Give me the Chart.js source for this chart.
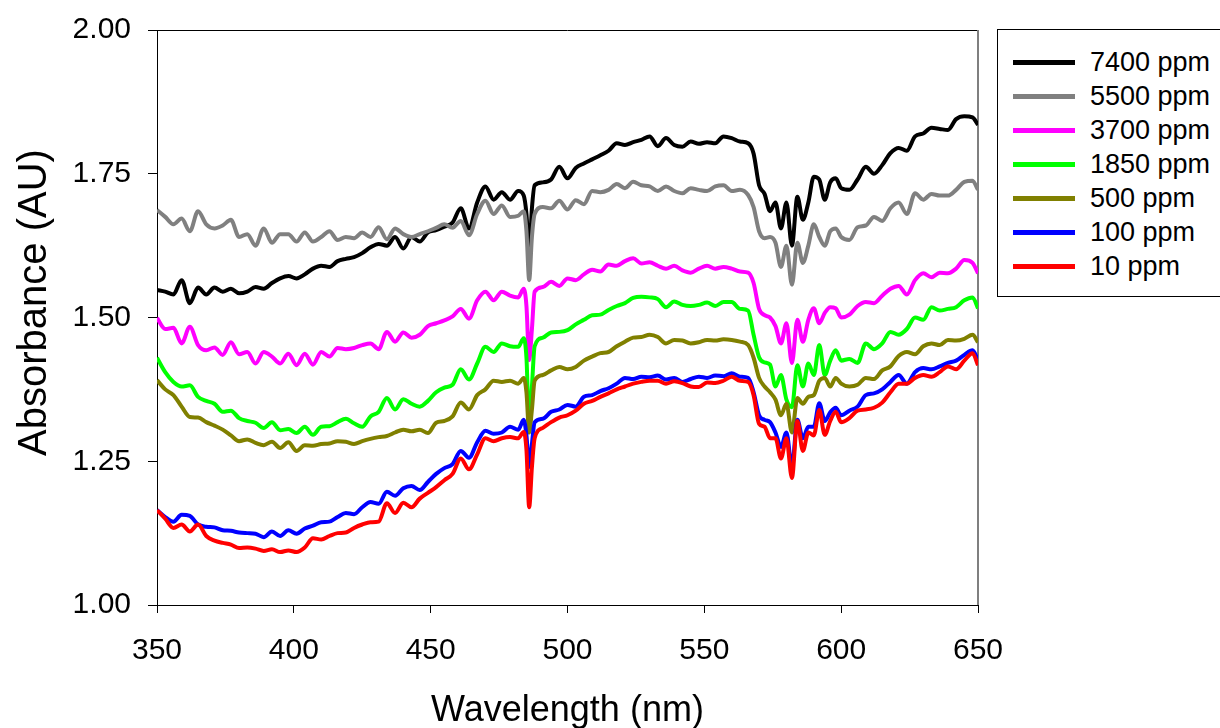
<!DOCTYPE html>
<html><head><meta charset="utf-8">
<script src="https://cdn.jsdelivr.net/npm/chart.js@4.4.1/dist/chart.umd.min.js"></script>
<style>
html,body{margin:0;padding:0;background:#fff;}
#wrap{position:relative;width:1220px;height:728px;overflow:hidden;}
#legend{position:absolute;left:997px;top:29px;width:240px;height:268px;border:1px solid #000;box-sizing:border-box;font-family:"Liberation Sans",Arial,sans-serif;font-size:27px;color:#000;background:#fff;}
.row{position:absolute;left:0;height:34px;width:220px;}
.sw{position:absolute;left:15px;top:15px;width:62px;height:5px;}
.lb{position:absolute;left:92px;top:0;white-space:nowrap;line-height:34px;}
</style></head>
<body><div id="wrap"><canvas id="c" width="1220" height="728"></canvas><div id="legend"></div></div>
<script>
const wavelength = [350,353,356,359,362,365,368,371,374,377,380,383,386,389,392,395,398,401,404,407,410,413,416,419,422,425,428,431,434,437,440,443,446,449,452,455,458,461,464,467,470,473,476,479,482,
484,485,486,487,488,
491,494,497,500,503,506,509,512,515,518,521,524,527,530,533,536,539,542,545,548,551,554,557,560,563,566,
568,570,572,574,576,578,580,582,584,586,588,590,592,594,596,598,600,
603,606,609,612,615,618,621,624,627,630,633,636,639,642,645,648,650];

const seriesNames = ['7400 ppm','5500 ppm','3700 ppm','1850 ppm','500 ppm','100 ppm','10 ppm'];
const seriesColors = ['#000000','#808080','#FF00FF','#00FF00','#808000','#0000FF','#FF0000'];

const abs7400 = [1.548,1.545,1.540,1.565,1.525,1.552,1.540,1.552,1.545,1.550,1.542,1.545,1.553,1.550,1.560,1.568,1.572,1.568,1.575,1.585,1.590,1.588,1.598,1.602,1.605,1.612,1.622,1.628,1.625,1.640,1.620,1.640,1.632,1.648,1.652,1.658,1.665,1.690,1.655,1.700,1.728,1.705,1.718,1.705,1.720,
1.712,1.680,1.612,1.690,1.730,
1.735,1.740,1.762,1.742,1.760,1.768,1.775,1.782,1.790,1.803,1.800,1.805,1.809,1.815,1.798,1.812,1.800,1.797,1.806,1.802,1.805,1.803,1.815,1.812,1.806,1.803,
1.785,1.730,1.715,1.685,1.700,1.655,1.700,1.625,1.710,1.670,1.700,1.745,1.740,1.705,1.735,1.742,1.725,
1.722,1.740,1.762,1.750,1.765,1.786,1.795,1.790,1.815,1.820,1.830,1.828,1.826,1.845,1.850,1.848,1.835];

const abs5500 = [1.687,1.675,1.662,1.672,1.650,1.685,1.662,1.655,1.660,1.670,1.640,1.645,1.625,1.655,1.630,1.645,1.645,1.632,1.648,1.632,1.640,1.650,1.635,1.640,1.638,1.648,1.640,1.657,1.636,1.655,1.645,1.640,1.645,1.650,1.656,1.662,1.656,1.668,1.643,1.680,1.703,1.680,1.695,1.675,1.677,
1.685,1.650,1.565,1.640,1.680,
1.692,1.690,1.703,1.688,1.704,1.697,1.720,1.718,1.722,1.732,1.725,1.736,1.730,1.728,1.720,1.728,1.720,1.716,1.725,1.722,1.720,1.728,1.730,1.720,1.722,1.713,
1.692,1.650,1.638,1.640,1.630,1.588,1.625,1.557,1.630,1.595,1.625,1.662,1.640,1.625,1.650,1.655,1.640,
1.635,1.657,1.660,1.675,1.668,1.690,1.700,1.680,1.716,1.705,1.715,1.712,1.712,1.722,1.736,1.738,1.722];

const abs3700 = [1.499,1.480,1.482,1.455,1.484,1.452,1.443,1.448,1.435,1.457,1.436,1.440,1.420,1.440,1.432,1.420,1.437,1.417,1.437,1.418,1.440,1.432,1.447,1.445,1.447,1.452,1.455,1.445,1.475,1.458,1.474,1.465,1.470,1.485,1.490,1.495,1.502,1.515,1.498,1.530,1.545,1.530,1.545,1.538,1.535,
1.550,1.520,1.426,1.480,1.545,
1.553,1.562,1.555,1.568,1.565,1.575,1.583,1.580,1.592,1.590,1.598,1.603,1.594,1.596,1.590,1.585,1.590,1.582,1.578,1.585,1.590,1.585,1.588,1.585,1.580,1.578,
1.560,1.515,1.504,1.500,1.485,1.455,1.490,1.421,1.496,1.458,1.496,1.516,1.490,1.508,1.518,1.516,1.500,
1.505,1.520,1.527,1.525,1.538,1.550,1.555,1.540,1.565,1.577,1.570,1.578,1.577,1.585,1.600,1.595,1.577];

const abs1850 = [1.430,1.405,1.388,1.380,1.382,1.362,1.355,1.350,1.336,1.338,1.325,1.320,1.317,1.308,1.318,1.304,1.306,1.299,1.310,1.296,1.310,1.311,1.318,1.324,1.316,1.310,1.328,1.336,1.360,1.340,1.358,1.350,1.345,1.355,1.370,1.378,1.383,1.410,1.392,1.420,1.449,1.440,1.455,1.450,1.449,
1.464,1.430,1.310,1.380,1.450,
1.465,1.474,1.475,1.478,1.488,1.496,1.504,1.505,1.513,1.520,1.525,1.534,1.536,1.535,1.532,1.518,1.528,1.522,1.520,1.522,1.526,1.520,1.527,1.527,1.515,1.512,
1.470,1.431,1.422,1.418,1.380,1.400,1.357,1.344,1.417,1.380,1.420,1.400,1.452,1.400,1.425,1.443,1.425,
1.428,1.421,1.455,1.445,1.455,1.475,1.470,1.480,1.500,1.496,1.518,1.512,1.515,1.518,1.530,1.535,1.516];

const abs500 = [1.391,1.375,1.365,1.345,1.327,1.326,1.318,1.312,1.305,1.295,1.285,1.288,1.282,1.278,1.284,1.273,1.283,1.268,1.278,1.277,1.280,1.281,1.285,1.284,1.280,1.285,1.289,1.292,1.294,1.300,1.305,1.302,1.305,1.299,1.317,1.320,1.328,1.352,1.340,1.365,1.375,1.390,1.388,1.390,1.385,
1.395,1.370,1.300,1.340,1.390,
1.400,1.408,1.414,1.410,1.414,1.425,1.432,1.438,1.440,1.450,1.458,1.465,1.466,1.470,1.466,1.455,1.461,1.460,1.455,1.457,1.461,1.460,1.462,1.461,1.458,1.452,
1.430,1.395,1.380,1.370,1.357,1.330,1.350,1.300,1.360,1.350,1.362,1.365,1.390,1.395,1.380,1.395,1.385,
1.380,1.383,1.395,1.393,1.408,1.415,1.433,1.440,1.436,1.450,1.455,1.452,1.461,1.460,1.463,1.470,1.457];

const abs100 = [1.165,1.153,1.145,1.157,1.155,1.140,1.136,1.135,1.130,1.129,1.126,1.125,1.124,1.118,1.128,1.120,1.130,1.124,1.133,1.138,1.144,1.145,1.153,1.160,1.158,1.170,1.179,1.176,1.197,1.190,1.203,1.207,1.200,1.214,1.228,1.238,1.245,1.268,1.256,1.283,1.303,1.298,1.300,1.310,1.305,
1.322,1.295,1.240,1.280,1.318,
1.324,1.336,1.340,1.348,1.345,1.362,1.365,1.372,1.377,1.385,1.395,1.393,1.397,1.396,1.399,1.392,1.395,1.388,1.393,1.397,1.395,1.399,1.398,1.403,1.397,1.395,
1.370,1.330,1.322,1.318,1.300,1.275,1.300,1.240,1.322,1.290,1.310,1.310,1.351,1.320,1.335,1.343,1.330,
1.338,1.345,1.365,1.368,1.375,1.388,1.400,1.385,1.405,1.412,1.410,1.415,1.421,1.425,1.435,1.443,1.426];

const abs10 = [1.165,1.150,1.134,1.140,1.128,1.140,1.120,1.112,1.108,1.105,1.099,1.100,1.098,1.094,1.097,1.092,1.095,1.092,1.100,1.116,1.114,1.120,1.125,1.126,1.134,1.140,1.144,1.145,1.177,1.160,1.178,1.170,1.185,1.195,1.205,1.217,1.228,1.255,1.236,1.262,1.290,1.285,1.290,1.292,1.290,
1.301,1.270,1.170,1.240,1.290,
1.308,1.318,1.326,1.330,1.338,1.350,1.355,1.362,1.368,1.375,1.380,1.385,1.388,1.390,1.390,1.385,1.389,1.386,1.380,1.379,1.387,1.386,1.390,1.397,1.390,1.388,
1.365,1.315,1.310,1.290,1.290,1.255,1.290,1.221,1.320,1.268,1.300,1.295,1.339,1.296,1.320,1.336,1.318,
1.325,1.338,1.340,1.343,1.352,1.370,1.385,1.385,1.395,1.400,1.397,1.405,1.415,1.410,1.425,1.438,1.417];

const seriesValues = [abs7400, abs5500, abs3700, abs1850, abs500, abs100, abs10];
const xTicks = [350,400,450,500,550,600,650];
const yTicks = [1.00,1.25,1.50,1.75,2.00];
const yTitle = 'Absorbance (AU)';

const FONT = '"Liberation Sans", Arial, Helvetica, sans-serif';

const framePlugin = {
  id: 'frame',
  beforeDatasetsDraw(chart) {
    const a = chart.chartArea, ctx = chart.ctx;
    ctx.save();
    ctx.strokeStyle = '#000'; ctx.lineWidth = 1;
    ctx.beginPath(); ctx.moveTo(a.left, a.top + 0.5); ctx.lineTo(a.right, a.top + 0.5); ctx.stroke();
    ctx.strokeStyle = '#7f7f7f'; ctx.lineWidth = 2;
    ctx.beginPath(); ctx.moveTo(a.right, a.top); ctx.lineTo(a.right, a.bottom); ctx.stroke();
    ctx.restore();
  },
  afterDraw(chart) {
    const a = chart.chartArea, ctx = chart.ctx;
    ctx.save();
    ctx.translate(35, (a.top + a.bottom) / 2 - 15);
    ctx.rotate(-Math.PI / 2);
    ctx.font = '40px ' + FONT;
    ctx.fillStyle = '#000';
    ctx.textAlign = 'center';
    ctx.textBaseline = 'middle';
    ctx.fillText(yTitle, 0, 0);
    ctx.restore();
  }
};

const datasets = seriesNames.map((name, i) => ({
  label: name,
  data: wavelength.map((w, j) => ({x: w, y: seriesValues[i][j]})),
  borderColor: seriesColors[i],
  backgroundColor: seriesColors[i],
  borderWidth: 4,
  pointRadius: 0,
  fill: false,
  cubicInterpolationMode: 'monotone',
  borderJoinStyle: 'round',
  order: seriesNames.length - i
}));

new Chart(document.getElementById('c'), {
  type: 'line',
  data: { datasets },
  options: {
    responsive: false,
    animation: false,
    devicePixelRatio: 1,
    layout: { padding: { top: 30, right: 242, left: 0, bottom: 0 } },
    plugins: { legend: { display: false }, tooltip: { enabled: false } },
    scales: {
      x: {
        type: 'linear', min: 350, max: 650,
        afterFit(s) { s.height = 123; },
        afterBuildTicks(s) { s.ticks = xTicks.map(v => ({value: v})); },
        ticks: { color: '#000', font: { family: FONT, size: 30 }, padding: 20, maxRotation: 0, autoSkip: false },
        grid: { drawOnChartArea: false, drawTicks: true, tickLength: 8, color: '#000', lineWidth: 1 },
        border: { display: true, color: '#000', width: 1 },
        title: { display: true, text: 'Wavelength (nm)', color: '#000', font: { family: FONT, size: 36, lineHeight: 0.9 }, padding: { top: 0, bottom: 1 } }
      },
      y: {
        type: 'linear', min: 1, max: 2,
        afterFit(s) { s.width = 157; },
        afterBuildTicks(s) { s.ticks = yTicks.map(v => ({value: v})); },
        ticks: { color: '#000', font: { family: FONT, size: 30, lineHeight: 0.8 }, padding: 17, callback: v => Number(v).toFixed(2) },
        grid: { drawOnChartArea: false, drawTicks: true, tickLength: 9, color: '#000', lineWidth: 1 },
        border: { display: true, color: '#000', width: 1 },
        title: { display: false, text: yTitle }
      }
    }
  },
  plugins: [framePlugin]
});

const legendEl = document.getElementById('legend');
seriesNames.forEach((name, i) => {
  const row = document.createElement('div');
  row.className = 'row';
  row.style.top = (15 + 34 * i) + 'px';
  const sw = document.createElement('div');
  sw.className = 'sw';
  sw.style.background = seriesColors[i];
  const lb = document.createElement('div');
  lb.className = 'lb';
  lb.textContent = name;
  row.appendChild(sw); row.appendChild(lb);
  legendEl.appendChild(row);
});
</script>
</body></html>
